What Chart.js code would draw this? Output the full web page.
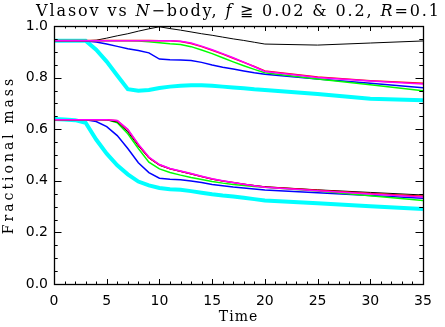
<!DOCTYPE html>
<html>
<head>
<meta charset="utf-8">
<script src="https://cdn.jsdelivr.net/npm/chart.js@4"></script>
<style>
  html, body { margin: 0; padding: 0; background: #fff; }
  #chart { display: block; }
</style>
</head>
<body>
<canvas id="chart" width="445" height="327"></canvas>
<script>
// time samples (every 1 up to 20, then every 5)
const times = [0,1,2,3,4,5,6,7,8,9,10,11,12,13,14,15,16,17,18,19,20,25,30,35];

// upper group: f >= 0.02
const blackHi   = [0.943,0.943,0.943,0.943,0.945,0.953,0.962,0.970,0.980,0.989,0.997,0.990,0.984,0.977,0.970,0.964,0.957,0.950,0.944,0.937,0.930,0.926,0.934,0.942];
const redHi     = [0.944,0.944,0.944,0.944,0.944,0.944,0.944,0.944,0.944,0.944,0.943,0.943,0.940,0.932,0.920,0.906,0.891,0.875,0.859,0.843,0.826,0.802,0.788,0.778];
const magentaHi = [0.943,0.943,0.943,0.943,0.943,0.943,0.943,0.943,0.943,0.943,0.943,0.943,0.941,0.934,0.922,0.908,0.893,0.877,0.860,0.842,0.824,0.800,0.787,0.775];
const greenHi   = [0.943,0.943,0.943,0.943,0.943,0.943,0.943,0.943,0.942,0.939,0.935,0.931,0.928,0.920,0.907,0.893,0.877,0.861,0.846,0.832,0.819,0.795,0.772,0.749];
const blueHi    = [0.943,0.943,0.943,0.942,0.938,0.930,0.921,0.912,0.905,0.896,0.872,0.869,0.868,0.866,0.859,0.849,0.840,0.833,0.826,0.819,0.813,0.795,0.778,0.761];
const cyanHi    = [0.943,0.943,0.943,0.943,0.908,0.862,0.808,0.755,0.749,0.752,0.760,0.765,0.768,0.770,0.770,0.768,0.765,0.762,0.759,0.755,0.752,0.736,0.718,0.712];

// lower group: f >= 0.2
const blackLo   = [0.637,0.637,0.637,0.637,0.637,0.636,0.628,0.590,0.535,0.488,0.460,0.446,0.436,0.426,0.416,0.406,0.399,0.393,0.387,0.382,0.377,0.365,0.355,0.345];
const redLo     = [0.637,0.637,0.637,0.637,0.637,0.637,0.633,0.598,0.540,0.490,0.462,0.447,0.437,0.427,0.417,0.407,0.399,0.393,0.387,0.381,0.376,0.363,0.351,0.340];
const magentaLo = [0.637,0.637,0.637,0.637,0.637,0.637,0.634,0.600,0.542,0.492,0.463,0.448,0.438,0.428,0.418,0.408,0.400,0.393,0.387,0.381,0.375,0.361,0.349,0.337];
const greenLo   = [0.637,0.637,0.637,0.637,0.637,0.637,0.625,0.582,0.525,0.472,0.446,0.432,0.422,0.413,0.405,0.397,0.391,0.386,0.382,0.378,0.375,0.360,0.342,0.324];
const blueLo    = [0.637,0.637,0.637,0.637,0.630,0.610,0.575,0.525,0.470,0.432,0.410,0.406,0.404,0.399,0.393,0.386,0.381,0.376,0.372,0.368,0.364,0.354,0.343,0.332];
const cyanLo    = [0.640,0.638,0.635,0.625,0.560,0.505,0.460,0.425,0.397,0.382,0.372,0.367,0.365,0.360,0.354,0.348,0.343,0.339,0.334,0.329,0.324,0.313,0.301,0.291];

const xTickStep = 5;
const yTickStep = 0.2;

function pts(vals) {
    return vals.map((v, i) => ({ x: times[i], y: v }));
}

function line(vals, color, width) {
    return {
        data: pts(vals),
        borderColor: color,
        borderWidth: width,
        pointRadius: 0,
        fill: false,
        tension: 0
    };
}

const serif = '"DejaVu Serif", serif';
const sans = '"DejaVu Sans", sans-serif';

// IDL style box with inward ticks and the titles
const idlFrame = {
    id: 'idlFrame',
    afterDatasetsDraw(chart) {
        const ctx = chart.ctx;
        const a = chart.chartArea;
        const xs = chart.scales.x;
        const ys = chart.scales.y;
        ctx.save();
        ctx.strokeStyle = '#000';
        ctx.lineWidth = 1;
        ctx.beginPath();
        for (let t = 0; t <= 35; t++) {
            const px = Math.round(xs.getPixelForValue(t)) + 0.5;
            const len = t % 5 === 0 ? 5 : 2.5;
            ctx.moveTo(px, a.bottom); ctx.lineTo(px, a.bottom - len);
            ctx.moveTo(px, a.top); ctx.lineTo(px, a.top + len);
        }
        for (let i = 0; i <= 20; i++) {
            const py = Math.round(ys.getPixelForValue(i * 0.05)) + 0.5;
            const len = i % 4 === 0 ? 7.5 : 3.7;
            ctx.moveTo(a.left, py); ctx.lineTo(a.left + len, py);
            ctx.moveTo(a.right, py); ctx.lineTo(a.right - len, py);
        }
        ctx.stroke();
        ctx.lineWidth = 1.3;
        ctx.strokeRect(Math.round(a.left) + 0.5, Math.round(a.top) + 0.5,
                       Math.round(a.right - a.left), Math.round(a.bottom - a.top));
        ctx.restore();
    },
    afterDraw(chart) {
        const ctx = chart.ctx;
        const a = chart.chartArea;
        const cx = (a.left + a.right) / 2;
        ctx.save();
        ctx.fillStyle = '#000';
        ctx.textBaseline = 'alphabetic';

        // title, with italic symbols
        const parts = [
            ['Vlasov vs ', false], ['N', true], ['\u2212body, ', false], ['f', true],
            [' \u2267 0.02 & 0.2, ', false], ['R', true], ['=0.1', false]
        ];
        ctx.letterSpacing = '1.9px';
        let total = 0;
        parts.forEach(p => {
            ctx.font = (p[1] ? 'italic ' : '') + '16px ' + serif;
            total += ctx.measureText(p[0]).width;
        });
        let x = cx - total / 2;
        ctx.textAlign = 'left';
        parts.forEach(p => {
            ctx.font = (p[1] ? 'italic ' : '') + '16px ' + serif;
            ctx.fillText(p[0], x, 16);
            x += ctx.measureText(p[0]).width;
        });

        // x axis title
        ctx.font = '14px ' + serif;
        ctx.letterSpacing = '1px';
        ctx.textAlign = 'center';
        ctx.fillText('Time', cx, 321);

        // y axis title
        ctx.translate(13, (a.top + a.bottom) / 2);
        ctx.rotate(-Math.PI / 2);
        ctx.letterSpacing = '3px';
        ctx.fillText('Fractional mass', 0, 0);
        ctx.restore();
    }
};

document.addEventListener('DOMContentLoaded', () => {
    const ctx = document.getElementById('chart').getContext('2d');
    const chart = new Chart(ctx, {
        type: 'line',
        data: {
            datasets: [
                line(magentaHi, '#ff00ff', 1.5),
                line(magentaLo, '#ff00ff', 1.5),
                line(redHi, '#ff0000', 1.5),
                line(redLo, '#ff0000', 1.5),
                line(blackHi, '#000000', 1),
                line(blackLo, '#000000', 1),
                line(greenHi, '#00ff00', 1.5),
                line(greenLo, '#00ff00', 1.5),
                line(blueHi, '#0000ff', 1.5),
                line(blueLo, '#0000ff', 1.5),
                line(cyanHi, '#00ffff', 4),
                line(cyanLo, '#00ffff', 4)
            ]
        },
        options: {
            responsive: false,
            animation: false,
            layout: {
                padding: { top: 26, right: 22, left: 0, bottom: 0 }
            },
            plugins: {
                legend: { display: false },
                title: { display: false },
                tooltip: { enabled: false }
            },
            scales: {
                x: {
                    type: 'linear',
                    min: 0,
                    max: 35,
                    grid: { display: false, drawTicks: false },
                    border: { display: false },
                    ticks: {
                        stepSize: xTickStep,
                        padding: 9,
                        color: '#000',
                        maxRotation: 0,
                        font: { family: sans, size: 14 }
                    },
                    afterFit: (scale) => { scale.height = 43; }
                },
                y: {
                    min: 0,
                    max: 1,
                    grid: { display: false, drawTicks: false },
                    border: { display: false },
                    ticks: {
                        stepSize: yTickStep,
                        padding: 6,
                        color: '#000',
                        font: { family: sans, size: 14 },
                        callback: (v) => v.toFixed(1)
                    },
                    afterFit: (scale) => { scale.width = 54; }
                }
            }
        },
        plugins: [idlFrame]
    });
});
</script>
</body>
</html>
